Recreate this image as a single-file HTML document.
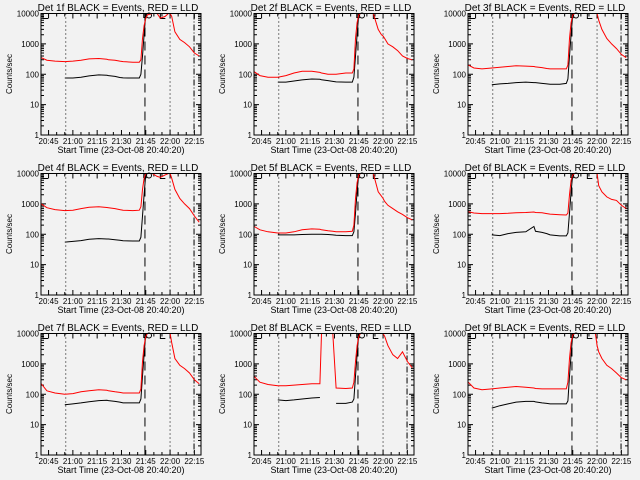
<!DOCTYPE html>
<html><head><meta charset="utf-8"><style>
html,body{margin:0;padding:0;background:#f2f2f2;}
svg{display:block;font-family:"Liberation Sans",sans-serif;}
</style></head><body>
<svg id="chart" width="640" height="480" viewBox="0 0 640 480" xmlns="http://www.w3.org/2000/svg">
<rect x="0" y="0" width="640" height="480" fill="#f2f2f2"/>
</svg>
<script>
// time in minutes after 20:40
const times = [0.5,4,9,15,20,25,30,36,41,42,46,49,51,57,61,62,63,64,65,66,69,72,74,77,79,80,81,83,86,89,92,95,98];
const detectors = ["1f","2f","3f","4f","5f","6f","7f","8f","9f"];
const N = null;
const red1 = [350,290,270,260,270,290,320,330,310,300,290,270,260,250,250,300,1500,4000,7000,9000,11000,10500,7000,8000,11000,11000,8000,2500,1400,1100,800,500,400];
const blk1 = [N,N,N,75,75,80,88,95,92,90,85,78,76,75,75,100,400,2000,10000];
const red2 = [120,90,80,80,90,110,125,125,115,110,100,100,100,110,110,150,1500,5000,9000,11000,12000,12000,12000,3000,2000,1800,1500,1000,800,600,400,330,300];
const blk2 = [N,N,N,55,55,60,65,70,68,66,62,58,56,55,55,80,400,2000,10000];
const red3 = [200,160,150,160,170,180,190,185,180,175,165,155,150,150,150,200,1500,5000,9000,11000,12000,12000,12000,12000,12000,12000,6000,3000,1500,1000,700,450,350];
const blk3 = [N,N,N,45,48,50,53,55,53,53,50,48,47,47,50,70,400,2000,10000];
const red4 = [1000,750,650,600,620,700,780,800,760,750,700,650,620,600,620,800,3000,7000,10000,11000,11000,8000,7500,9000,11000,11000,7000,3000,1500,1000,700,400,250];
const blk4 = [N,N,N,55,58,62,68,72,70,70,66,63,61,60,60,80,400,2000,10000];
const red5 = [180,140,120,110,110,120,140,150,145,140,130,125,120,120,125,200,1500,5000,9000,11000,12000,12000,11000,2500,1800,1500,1200,900,700,550,450,350,300];
const blk5 = [N,N,N,95,95,95,98,100,100,100,98,95,92,90,90,120,500,2500,10000];
const red6 = [550,500,480,480,480,490,510,520,540,520,510,480,460,440,430,500,2000,6000,9000,11000,12000,12000,12000,12000,11000,10000,4000,2500,1700,1400,1300,900,700];
const blk6 = [N,N,N,95,90,105,115,120,180,125,115,105,95,88,88,110,500,2500,10000];
const red7 = [220,130,110,100,105,120,130,140,135,130,120,115,110,110,110,150,1200,4000,8000,11000,12000,12000,12000,12000,12000,11000,5000,1500,900,700,500,300,220];
const blk7 = [N,N,N,45,48,52,57,62,63,62,58,55,52,52,52,70,400,2000,10000];
const red8 = [380,250,210,190,190,200,210,220,220,12000,12000,12000,160,155,160,250,1200,4000,8000,11000,12000,12000,12000,12000,12000,11000,8000,4000,2000,1500,2500,1200,750];
const blk8 = [N,N,N,65,62,65,70,75,78,N,N,N,50,50,55,70,400,2000,10000];
const red9 = [250,160,140,150,160,170,180,170,160,155,150,150,150,150,150,250,1500,5000,9000,11000,12000,12000,12000,12000,11000,4000,2500,1500,900,700,500,350,300];
const blk9 = [N,N,N,35,42,48,55,58,58,56,52,50,48,48,48,60,400,2000,10000];
const reds = [red1,red2,red3,red4,red5,red6,red7,red8,red9];
const blacks = [blk1,blk2,blk3,blk4,blk5,blk6,blk7,blk8,blk9];
const xTickLabels = ["20:45","21:00","21:15","21:30","21:45","22:00","22:15"];
const xTickMinutes = [5,20,35,50,65,80,95];
const yTickLabels = ["1","10","100","1000","10000"];
const yTickValues = [1,10,100,1000,10000];
const markerMinutes = [15.6,64.5,80,94.8];

const NS="http://www.w3.org/2000/svg";
const svg=document.getElementById('chart');
function mk(tag,attrs,parent){const e=document.createElementNS(NS,tag);for(const k in attrs)e.setAttribute(k,attrs[k]);(parent||svg).appendChild(e);return e;}
const L=41,R=201,T=13.5,B=135;
function xs(m){return L+(m-0.33)*1.62;}
function ys(v){return B-30.375*Math.log10(v);}
function clipY(y){return Math.max(T,Math.min(B,y));}

for(let p=0;p<9;p++){
  const ox=[0,213,427][p%3], oy=[0,160,320][Math.floor(p/3)];
  const g=mk('g',{transform:`translate(${ox},${oy})`});
  
  
  const t=mk('text',{x:118,y:11,'font-size':'10','text-anchor':'middle',fill:'#000'},g);
  t.textContent=`Det ${detectors[p]} BLACK = Events, RED = LLD`;
  
  
  const yl=mk('text',{x:0,y:0,'font-size':'8','text-anchor':'middle',transform:`translate(12,74) rotate(-90)`},g);
  yl.textContent='Counts/sec';
  
  
  const xl=mk('text',{x:121,y:153,'font-size':'9','text-anchor':'middle'},g);
  xl.textContent='Start Time (23-Oct-08 20:40:20)';
  
  
  let tk='';
  for(let d=0;d<5;d++){
    const y=ys(yTickValues[d]);
    tk+=`M${L},${y}h5M${R},${y}h-5`;
    if(d<4)for(let k=2;k<10;k++){const yy=ys(yTickValues[d]*k);tk+=`M${L},${yy}h3M${R},${yy}h-3`;}
  }
  for(let m=5;m<=95;m+=5){const x=xs(m);const len=(m-5)%15===0?5:3;tk+=`M${x},${B}v-${len}M${x},${T}v${len}`;}
  const tp=mk('path',{d:tk,stroke:'#000','stroke-width':1,fill:'none'},g);
  
  
  yTickValues.forEach((v,i)=>{
    const e=mk('text',{x:39,y:ys(v)+3,'font-size':'8','text-anchor':'end'},g);
    e.textContent=yTickLabels[i];
    
    
  });
  xTickMinutes.forEach((m,i)=>{
    const e=mk('text',{x:xs(m),y:144,'font-size':'8','text-anchor':'middle'},g);
    e.textContent=xTickLabels[i];
    
    
  });
  const styles=['1,3','9,5','1,3','6,2,1,2'];
  markerMinutes.forEach((m,i)=>{
    const e=mk('line',{x1:xs(m),x2:xs(m),y1:T,y2:B,stroke:'#000','stroke-width':1,'stroke-dasharray':styles[i]},g);
    
    
  });
  const br=mk('path',{d:`M43,${T}v5h5M${xs(74)},${T}v5h5M${xs(65)-2},${T}v4h3`,stroke:'#000',fill:'none'},g);
  
  
  const ci=mk('circle',{cx:xs(67),cy:T+2,r:2.5,stroke:'#000',fill:'none'},g);
  
  
  function line(vals,color,name){
    let d='',pen=false;
    vals.forEach((v,i)=>{
      if(v==null){pen=false;return;}
      const x=xs(times[i]),y=clipY(ys(v));
      d+=(pen?'L':'M')+x.toFixed(1)+','+y.toFixed(1);pen=true;
    });
    const e=mk('path',{d:d,stroke:color,'stroke-width':1,fill:'none'},g);
    
    
  }
  line(blacks[p],'#000','events-line');
  line(reds[p],'#ff0000','lld-line');
  const box=mk('rect',{x:L,y:T,width:R-L,height:B-T,fill:'none',stroke:'#000','stroke-width':1},g);
  
  
}
</script>
</body></html>
